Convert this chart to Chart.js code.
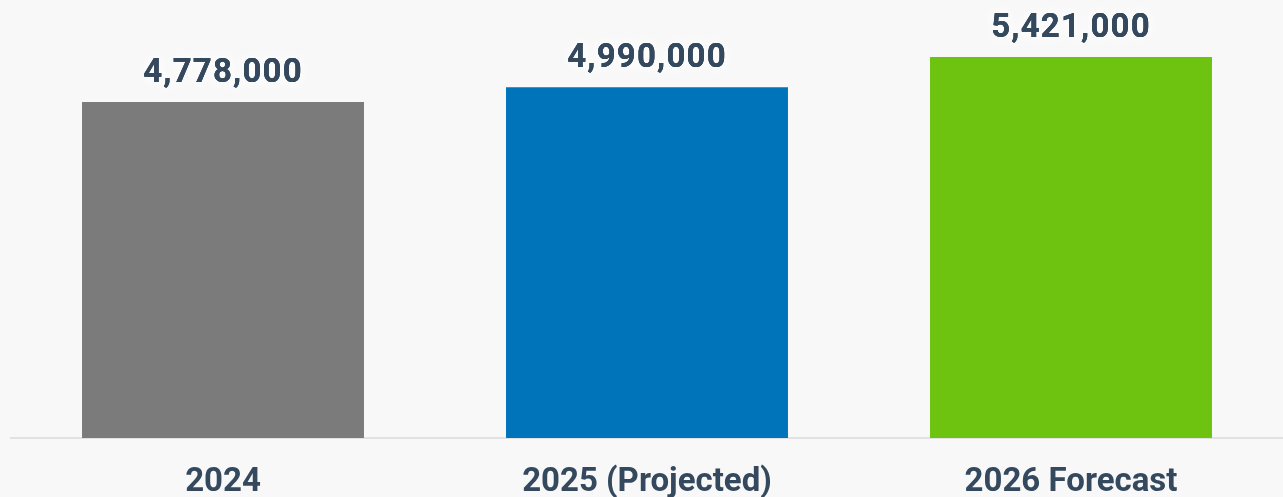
<!DOCTYPE html>
<html>
<head>
<meta charset="utf-8">
<script src="https://cdn.jsdelivr.net/npm/chart.js@4"></script>
<style>
  html, body { margin: 0; padding: 0; background: #f8f8f8; }
  #wrap { width: 1283px; height: 497px; position: relative; }
</style>
</head>
<body>
<div id="wrap"><canvas id="barChart"></canvas></div>
<script>
// Kategoriler ve değerler
const categories = ['2024', '2025 (Projected)', '2026 Forecast'];
const values = [4778000, 4990000, 5421000];
const barColors = ['#7b7b7b', '#0074bb', '#6dc310'];
const textColor = '#34495e';

// Çubukların üstüne değerleri yaz (beyaz hale ile)
const valueLabels = {
    id: 'valueLabels',
    afterDatasetsDraw(chart) {
        const ctx = chart.ctx;
        const meta = chart.getDatasetMeta(0);
        ctx.save();
        ctx.font = 'bold 33px Roboto';
        ctx.letterSpacing = '1.2px';
        ctx.textAlign = 'center';
        ctx.textBaseline = 'alphabetic';
        meta.data.forEach((bar, i) => {
            const text = values[i].toLocaleString('en-US');
            ctx.shadowColor = 'rgba(255,255,255,1)';
            ctx.shadowBlur = 12;
            ctx.fillStyle = textColor;
            ctx.fillText(text, bar.x, bar.y - 20);
            ctx.fillText(text, bar.x, bar.y - 20);
            ctx.shadowBlur = 0;
            ctx.fillText(text, bar.x, bar.y - 20);
        });
        ctx.restore();
    }
};

const ctx = document.getElementById('barChart').getContext('2d');
new Chart(ctx, {
    type: 'bar',
    data: {
        labels: categories,
        datasets: [{
            data: values,
            backgroundColor: barColors,
            borderWidth: 0,
            categoryPercentage: 1,
            barPercentage: 0.665
        }]
    },
    options: {
        responsive: true,
        maintainAspectRatio: false,
        animation: false,
        layout: { padding: { left: 11, right: 0, top: 0, bottom: 0 } },
        plugins: {
            legend: { display: false },
            tooltip: { enabled: false }
        },
        scales: {
            y: {
                display: false,
                min: 0,
                max: 6230000
            },
            x: {
                grid: { display: false, drawTicks: false },
                border: { display: true, color: '#e2e2e2', width: 2 },
                ticks: {
                    color: textColor,
                    padding: 25,
                    font: { family: 'Roboto', size: 33, weight: 'bold' }
                },
                afterFit(scale) { scale.height = 59; }
            }
        }
    },
    plugins: [valueLabels]
});
</script>
</body>
</html>
